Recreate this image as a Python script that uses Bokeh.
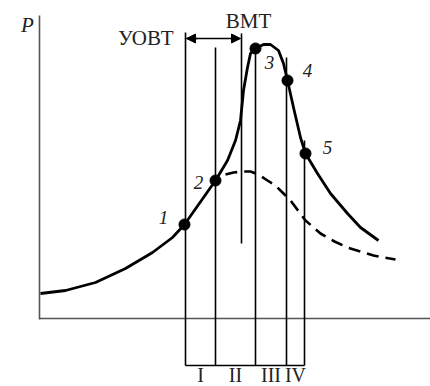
from bokeh.plotting import figure
from bokeh.models import Range1d, Arrow, NormalHead
from bokeh.core.properties import value
from bokeh.embed import file_html
from bokeh.resources import INLINE

# Solid curve (P vs crank angle, schematic units)
curve_x = [1, 26, 56, 86, 113, 133, 145, 176, 188, 196, 201, 204, 208, 211, 216, 224, 231, 239, 244, 248, 254, 261, 266, 278, 291, 308, 321, 339]
curve_y = [25, 28, 36, 50, 66, 81, 94, 138, 158, 178, 198, 228, 251, 265, 270, 274, 274, 268, 255, 238, 211, 181, 165, 145, 125, 105, 91, 78]
# Dashed curve (motoring / no combustion)
dash_x = [186, 194, 203, 211, 219, 228, 236, 243, 251, 266, 281, 295, 308, 321, 334, 356]
dash_y = [144, 146, 147, 147, 144, 138, 133, 126, 118, 98, 85, 77, 71, 67, 63, 59]
# Marked points
pt_x = [145, 176, 216, 248, 266]
pt_y = [94, 138, 270, 238, 165]
pt_labels = ["1", "2", "3", "4", "5"]
pt_label_x = [124, 159, 230, 268, 288]
pt_label_y = [101, 136, 256, 248, 171]
# Phase boundaries
bound_x = [146, 176, 216, 247, 265]
bound_top = [286, 271, 271, 261, 178]
bound_bottom = -47
tdc_x = 202
tdc_top = 285
tdc_bottom = 75
phase_labels = ["I", "II", "III", "IV"]
axis_top = 303
axis_right = 395

p = figure(width=430, height=386, output_backend="svg", toolbar_location=None,
           x_range=Range1d(-39, 391), y_range=Range1d(-68, 318),
           min_border=0, outline_line_color=None)
p.xaxis.visible = False
p.yaxis.visible = False
p.grid.visible = False

# axes
p.line([0, 0], [-1, axis_top], line_color="#555555", line_width=1.6)
p.line([0, axis_right], [0, 0], line_color="#555555", line_width=1.6)

# phase boundary lines
p.segment(x0=bound_x, y0=[bound_bottom] * len(bound_x), x1=bound_x, y1=bound_top,
          line_color="black", line_width=1.6)
p.segment(x0=[tdc_x], y0=[tdc_bottom], x1=[tdc_x], y1=[tdc_top], line_color="black", line_width=1.6)
p.line([bound_x[0], bound_x[-1]], [bound_bottom, bound_bottom], line_color="black", line_width=1.6)

# curves
p.line(curve_x, curve_y, line_color="black", line_width=2.8, line_join="round")
p.line(dash_x, dash_y, line_color="black", line_width=2.6, line_dash="12 7")
p.scatter(pt_x, pt_y, size=11, color="black")

# arrow УОВТ <-> ВМТ
arrow_y = 280
p.add_layout(Arrow(x_start=bound_x[0] + 12, y_start=arrow_y, x_end=bound_x[0] + 1, y_end=arrow_y,
                   end=NormalHead(size=9, fill_color="black", line_color="black"),
                   line_width=1.5, line_color="black"))
p.add_layout(Arrow(x_start=bound_x[0] + 1, y_start=arrow_y, x_end=tdc_x - 1, y_end=arrow_y,
                   end=NormalHead(size=9, fill_color="black", line_color="black"),
                   line_width=1.5, line_color="black"))

serif = value("Liberation Serif")
p.text(x=pt_label_x, y=pt_label_y, text=pt_labels, text_font=serif, text_font_style="italic",
       text_font_size="19px", text_align="center", text_baseline="middle", text_color="#222222")
p.text(x=[-12], y=[294], text=["P"], text_font=serif, text_font_style="italic",
       text_font_size="21px", text_align="center", text_baseline="middle", text_color="#222222")
p.text(x=[134], y=[arrow_y + 1], text=["УОВТ"], text_font=serif, text_font_size="21px",
       text_align="right", text_baseline="middle", text_color="#222222")
p.text(x=[209], y=[298], text=["ВМТ"], text_font=serif, text_font_size="21px",
       text_align="center", text_baseline="middle", text_color="#222222")
mids = [(bound_x[i] + bound_x[i + 1]) / 2 for i in range(len(phase_labels))]
p.text(x=mids, y=[-67.5] * len(mids), text=phase_labels, text_font=serif, text_font_size="20px",
       text_align="center", text_baseline="bottom", text_color="#222222")

open("out.html", "w").write(file_html(p, INLINE))
